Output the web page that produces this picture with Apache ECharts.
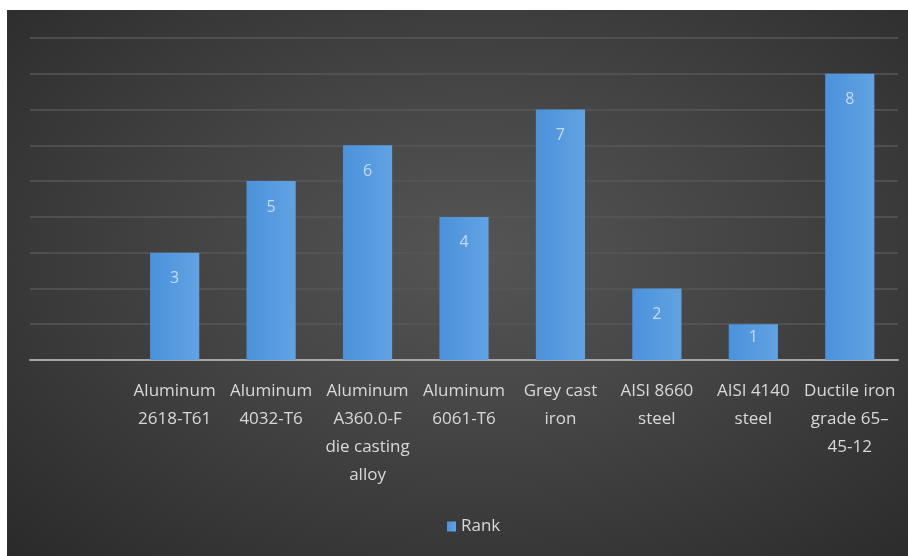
<!DOCTYPE html>
<html>
<head>
<meta charset="utf-8">
<script src="https://cdn.jsdelivr.net/npm/echarts@6/dist/echarts.min.js"></script>
<style>
  html, body { margin: 0; padding: 0; background: #fff; }
  #chart {
    position: absolute; left: 7px; top: 10px; width: 901px; height: 546px;
    background: radial-gradient(ellipse at 52% 45%, #555555 0%, #454545 40%, #2a2a2a 100%);
  }
</style>
</head>
<body>
<div id="chart"></div>
<script>
// 类别（第一个为空位）
const categories = [
  '',
  'Aluminum\n2618-T61',
  'Aluminum\n4032-T6',
  'Aluminum\nA360.0-F\ndie casting\nalloy',
  'Aluminum\n6061-T6',
  'Grey cast\niron',
  'AISI 8660\nsteel',
  'AISI 4140\nsteel',
  'Ductile iron\ngrade 65–\n45-12'
]
const rank = [null, 3, 5, 6, 4, 7, 2, 1, 8]
const seriesName = 'Rank'

const chart = echarts.init(document.getElementById('chart'))

const option = {
  backgroundColor: 'transparent',
  textStyle: { fontFamily: 'Open Sans' },
  grid: { left: 23, right: 10, top: 28, bottom: 196 },
  legend: {
    data: [seriesName],
    top: 503,
    left: 435,
    icon: 'rect',
    itemWidth: 9,
    itemHeight: 10,
    itemGap: 4,
    textStyle: { color: '#d9d9d9', fontSize: 17 }
  },
  xAxis: {
    type: 'category',
    data: categories,
    axisLine: { lineStyle: { color: '#a6a6a6', width: 2 } },
    axisTick: { show: false },
    axisLabel: {
      color: '#d9d9d9',
      fontSize: 17,
      lineHeight: 28,
      margin: 17,
      interval: 0
    }
  },
  yAxis: {
    type: 'value',
    min: 0,
    max: 9,
    interval: 1,
    axisLabel: { show: false },
    axisLine: { show: false },
    axisTick: { show: false },
    splitLine: { lineStyle: { color: '#575757', width: 1.5 } }
  },
  series: [
    {
      name: seriesName,
      type: 'bar',
      barCategoryGap: '49%',
      data: rank.map(v => v === 1 ? { value: v, label: { distance: 5 } } : v),
      itemStyle: {
        color: {
          type: 'linear', x: 0, y: 0, x2: 1, y2: 0,
          colorStops: [
            { offset: 0, color: '#4b92dc' },
            { offset: 1, color: '#61a3e2' }
          ]
        }
      },
      label: {
        show: true,
        position: 'insideTop',
        distance: 18,
        color: '#c9d9ec',
        fontSize: 16
      }
    }
  ]
}
chart.setOption(option)
</script>
</body>
</html>
